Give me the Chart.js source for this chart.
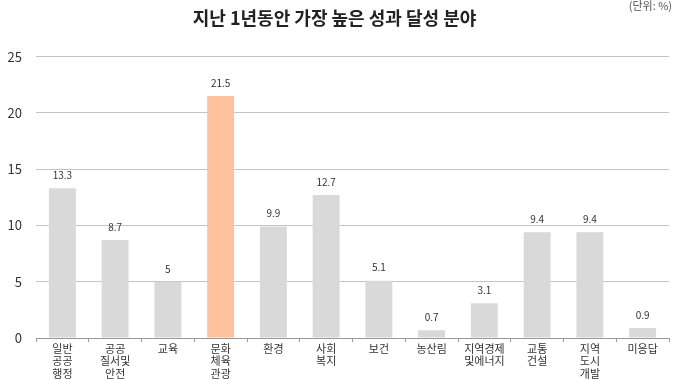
<!DOCTYPE html>
<html><head><meta charset="utf-8">
<script src="https://cdn.jsdelivr.net/npm/chart.js@4"></script>
<style>html,body{margin:0;padding:0;background:#fff}#wrap{width:675px;height:380px;position:relative}</style>
</head><body><div id="wrap"><canvas id="c" width="675" height="380"></canvas></div>
<script>
const categories = [['일반','공공','행정'], ['공공','질서및','안전'], '교육', ['문화','체육','관광'], '환경', ['사회','복지'], '보건', '농산림', ['지역경제','및에너지'], ['교통','건설'], ['지역','도시','개발'], '미응답'];
const values = [13.3, 8.7, 5, 21.5, 9.9, 12.7, 5.1, 0.7, 3.1, 9.4, 9.4, 0.9];
const yTicks = [0, 5, 10, 15, 20, 25];
const highlightIndex = 3;
const FONT = "'Noto Sans CJK KR', 'Noto Sans', sans-serif";

const labelPlugin = {
  id: 'valueLabels',
  afterDatasetsDraw(chart) {
    const ctx = chart.ctx;
    const meta = chart.getDatasetMeta(0);
    ctx.save();
    ctx.font = '10px ' + FONT;
    ctx.fillStyle = '#333';
    ctx.textAlign = 'center';
    ctx.textBaseline = 'bottom';
    meta.data.forEach((bar, i) => {
      ctx.fillText(String(values[i]), bar.x, bar.y - 8);
    });
    ctx.restore();
  }
};
const unitPlugin = {
  id: 'unit',
  afterDraw(chart) {
    const ctx = chart.ctx;
    ctx.save();
    ctx.font = '11px ' + FONT;
    ctx.fillStyle = '#555';
    ctx.textAlign = 'right';
    ctx.textBaseline = 'top';
    ctx.fillText('(단위: %)', 672, 0);
    ctx.restore();
  }
};

new Chart(document.getElementById('c'), {
  type: 'bar',
  data: {
    labels: categories,
    datasets: [{
      data: values,
      backgroundColor: values.map((v, i) => i === highlightIndex ? '#fdc19b' : '#d9d9d9'),
      barPercentage: 0.51,
      categoryPercentage: 1.0
    }]
  },
  options: {
    responsive: false,
    animation: false,
    layout: { padding: { left: 0, right: 6, top: 0, bottom: 0 } },
    plugins: {
      legend: { display: false },
      tooltip: { enabled: false },
      title: {
        display: true,
        text: '지난 1년동안 가장 높은 성과 달성 분야',
        color: '#222',
        font: { family: FONT, size: 18, weight: 'bold' },
        padding: { top: 7, bottom: 28 }
      }
    },
    scales: {
      y: {
        min: 0, max: 25,
        afterBuildTicks(axis) { axis.ticks = yTicks.map(v => ({ value: v })); },
        afterFit(scale) { scale.width = 36; },
        ticks: { color: '#333', font: { family: FONT, size: 13 }, padding: 14 },
        grid: { color: '#c4c4c4', drawTicks: false },
        border: { display: false }
      },
      x: {
        offset: true,
        ticks: { color: '#333', font: { family: FONT, size: 11, lineHeight: 1.15 }, padding: 0, maxRotation: 0, autoSkip: false },
        grid: { display: true, drawOnChartArea: false, drawTicks: true, tickLength: 4, color: '#999', offset: true },
        border: { display: true, color: '#999' }
      }
    }
  },
  plugins: [labelPlugin, unitPlugin]
});
</script></body></html>
